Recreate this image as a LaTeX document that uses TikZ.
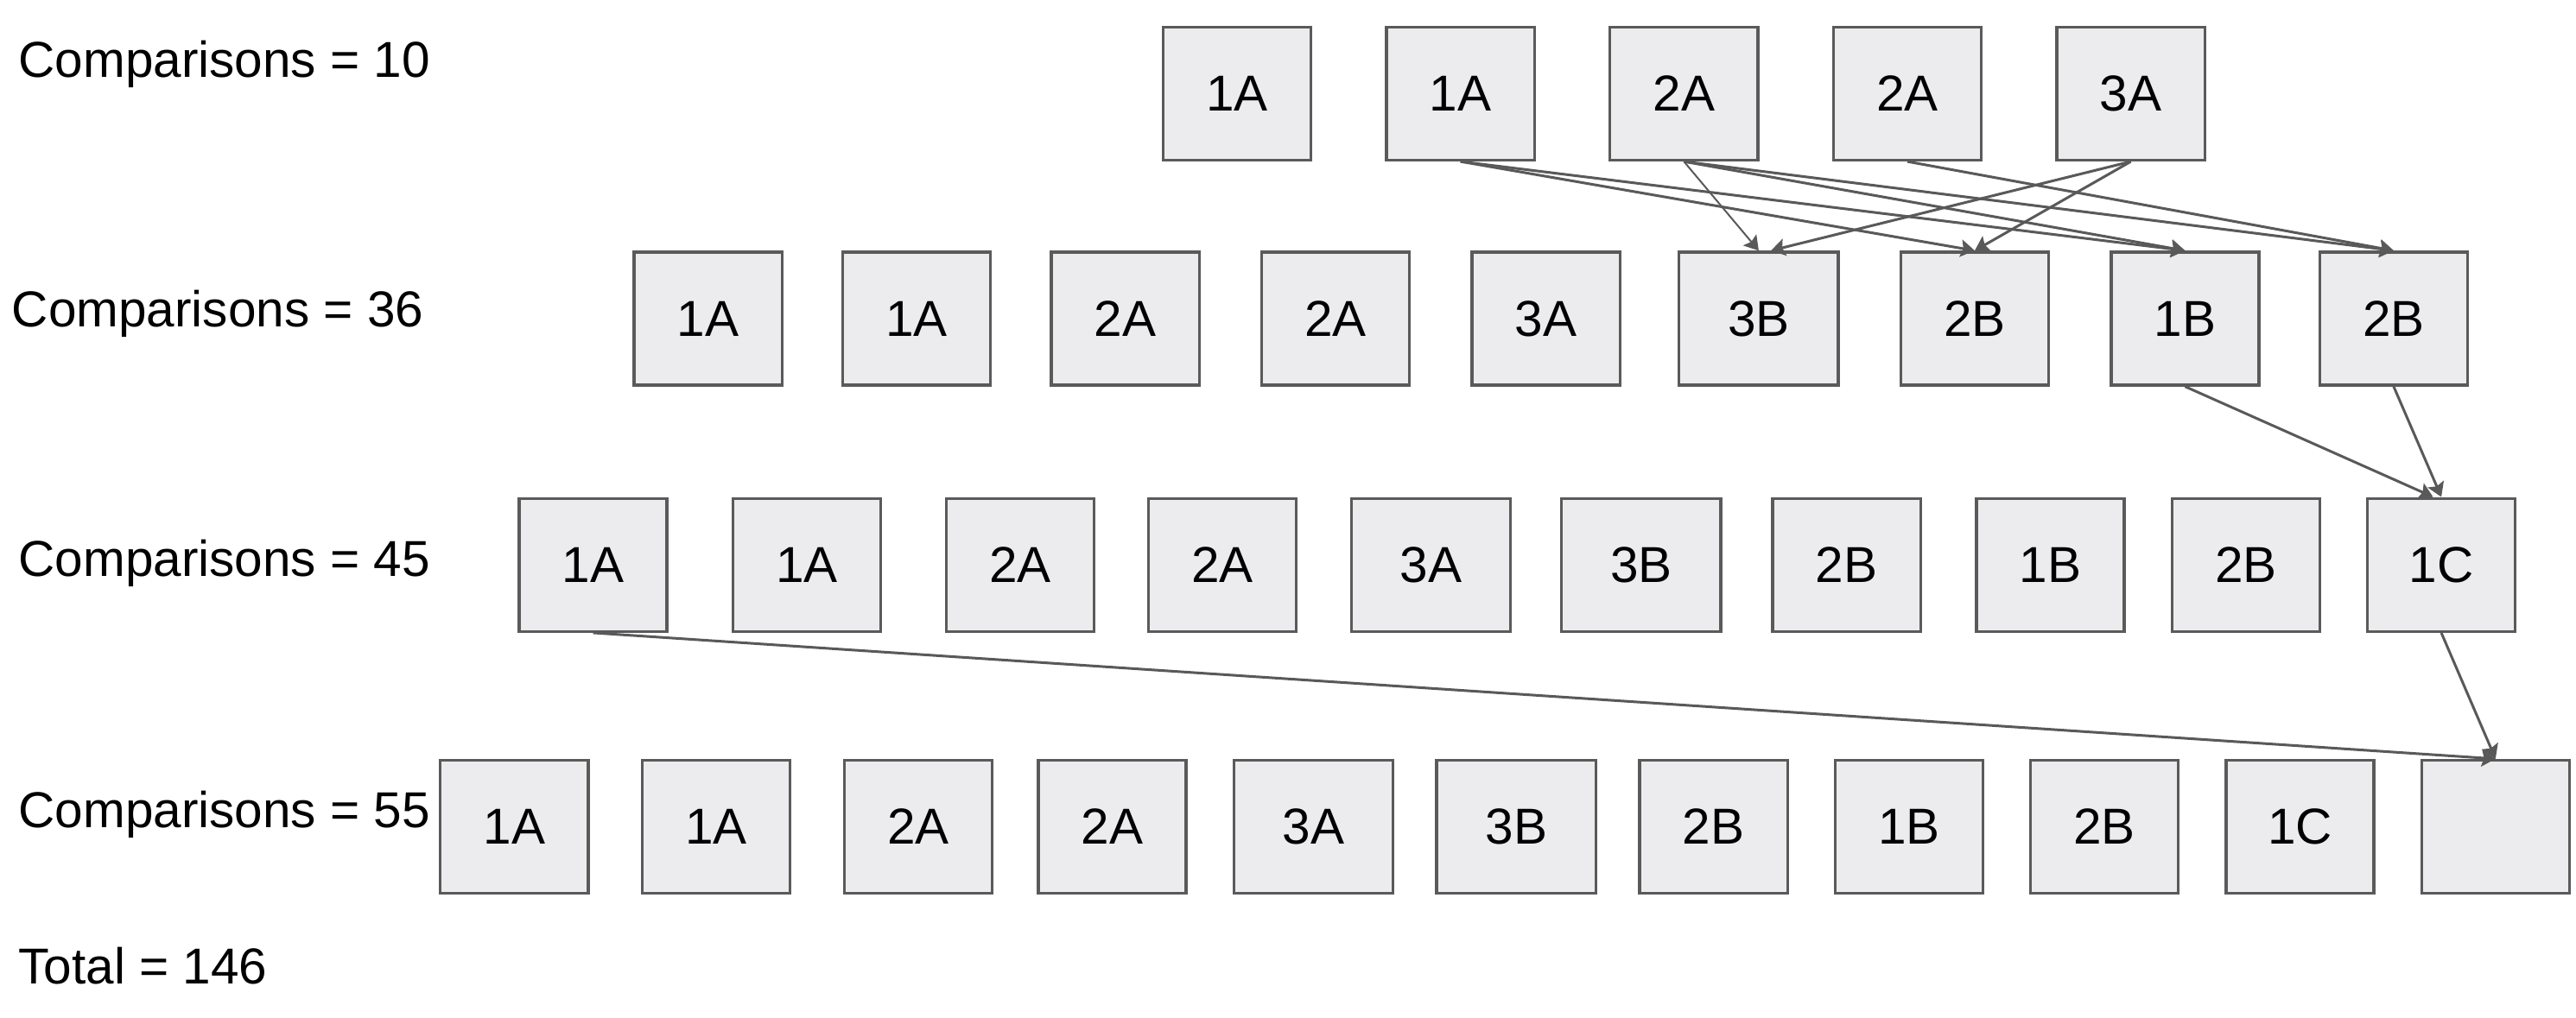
\documentclass[tikz,border=0pt]{standalone}
\usepackage{fontspec}
\setmainfont{Liberation Sans}
\usepackage{tikz}
\usetikzlibrary{arrows.meta}

\definecolor{boxfill}{HTML}{ECECEE}
\definecolor{boxline}{HTML}{5A5A5A}
\definecolor{linkcol}{HTML}{595959}

\begin{document}
\begin{tikzpicture}[
  card/.style={draw=boxline,fill=boxfill,line width=1pt,minimum width=1.8cm,minimum height=1.62cm,inner sep=0pt,font=\fontsize{17.5}{20}\selectfont},
  wide/.style={card,minimum width=1.94cm},
  tally/.style={anchor=west,inner sep=0pt,font=\fontsize{17.5}{20}\selectfont},
  link/.style={draw=linkcol,line width=0.9pt,-{Stealth[length=0.17cm,width=0.21cm,inset=0.03cm]}}]
\useasboundingbox (0,0) rectangle (31.36,-12.39);

\node[tally] (c10) at (0.22,-0.78) {Comparisons = 10};
\node[tally] (c36) at (0.14,-3.82) {Comparisons = 36};
\node[tally] (c45) at (0.22,-6.86) {Comparisons = 45};
\node[tally] (c55) at (0.22,-9.92) {Comparisons = 55};
\node[tally] (tot) at (0.22,-11.76) {Total = 146};

\node[card] (a1) at (15.06,-1.14) {1A};
\node[card] (a2) at (17.78,-1.14) {1A};
\node[card] (a3) at (20.50,-1.14) {2A};
\node[card] (a4) at (23.22,-1.14) {2A};
\node[card] (a5) at (25.94,-1.14) {3A};

\node[card] (b1) at (8.62,-3.88) {1A};
\node[card] (b2) at (11.16,-3.88) {1A};
\node[card] (b3) at (13.70,-3.88) {2A};
\node[card] (b4) at (16.26,-3.88) {2A};
\node[card] (b5) at (18.82,-3.88) {3A};
\node[wide] (b6) at (21.41,-3.88) {3B};
\node[card] (b7) at (24.04,-3.88) {2B};
\node[card] (b8) at (26.60,-3.88) {1B};
\node[card] (b9) at (29.14,-3.88) {2B};

\node[card] (c1) at (7.22,-6.88) {1A};
\node[card] (c2) at (9.82,-6.88) {1A};
\node[card] (c3) at (12.42,-6.88) {2A};
\node[card] (c4) at (14.88,-6.88) {2A};
\node[wide] (c5) at (17.42,-6.88) {3A};
\node[wide] (c6) at (19.98,-6.88) {3B};
\node[card] (c7) at (22.48,-6.88) {2B};
\node[card] (c8) at (24.96,-6.88) {1B};
\node[card] (c9) at (27.34,-6.88) {2B};
\node[card] (c10b) at (29.72,-6.88) {1C};

\node[card] (d1) at (6.26,-10.07) {1A};
\node[card] (d2) at (8.72,-10.07) {1A};
\node[card] (d3) at (11.18,-10.07) {2A};
\node[card] (d4) at (13.54,-10.07) {2A};
\node[wide] (d5) at (15.99,-10.07) {3A};
\node[wide] (d6) at (18.46,-10.07) {3B};
\node[card] (d7) at (20.86,-10.07) {2B};
\node[card] (d8) at (23.24,-10.07) {1B};
\node[card] (d9) at (25.62,-10.07) {2B};
\node[card] (d10) at (28.00,-10.07) {1C};
\node[card] (d11) at (30.38,-10.07) {};

\draw[link] (a2.south) -- (b7.north);
\draw[link] (a2.south) -- (b8.north);
\draw[link,line width=0.6pt] (a3.south) -- (b6.north);
\draw[link] (a3.south) -- (b8.north);
\draw[link] (a3.south) -- (b9.north);
\draw[link] (a4.south) -- (b9.north);
\draw[link] (a5.south) -- ([xshift=0.15cm]b6.north);
\draw[link] (a5.south) -- (b7.north);

\draw[link] (b8.south) -- ([xshift=-0.1cm]c10b.north);
\draw[link] (b9.south) -- (c10b.north);

\draw[link] (c1.south) -- (d11.north);
\draw[link] (c10b.south) -- (d11.north);
\end{tikzpicture}
\end{document}
